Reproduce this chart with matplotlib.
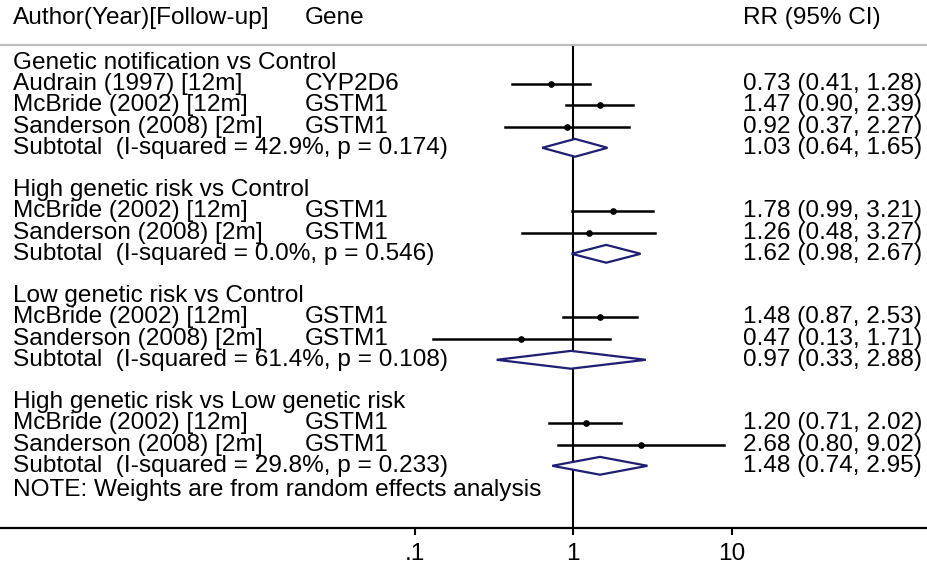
import numpy as np
import matplotlib
matplotlib.use("Agg")
import matplotlib.pyplot as plt

plt.rcParams["font.family"] = ["Liberation Sans", "DejaVu Sans"]

# Data
groups = [
    "Genetic notification vs Control",
    "High genetic risk vs Control",
    "Low genetic risk vs Control",
    "High genetic risk vs Low genetic risk",
]
study_group = [0, 0, 0, 1, 1, 2, 2, 3, 3]
study_labels = [
    "Audrain (1997) [12m]", "McBride (2002) [12m]", "Sanderson (2008) [2m]",
    "McBride (2002) [12m]", "Sanderson (2008) [2m]",
    "McBride (2002) [12m]", "Sanderson (2008) [2m]",
    "McBride (2002) [12m]", "Sanderson (2008) [2m]",
]
study_genes = ["CYP2D6", "GSTM1", "GSTM1", "GSTM1", "GSTM1",
               "GSTM1", "GSTM1", "GSTM1", "GSTM1"]
study_rr = [0.73, 1.47, 0.92, 1.78, 1.26, 1.48, 0.47, 1.20, 2.68]
study_lo = [0.41, 0.90, 0.37, 0.99, 0.48, 0.87, 0.13, 0.71, 0.80]
study_hi = [1.28, 2.39, 2.27, 3.21, 3.27, 2.53, 1.71, 2.02, 9.02]

sub_i2 = [42.9, 0.0, 61.4, 29.8]
sub_p = [0.174, 0.546, 0.108, 0.233]
sub_rr = [1.03, 1.62, 0.97, 1.48]
sub_lo = [0.64, 0.98, 0.33, 0.74]
sub_hi = [1.65, 2.67, 2.88, 2.95]

xticks = [0.1, 1, 10]
xticklabels = [".1", "1", "10"]

W, H = 928, 569
FS = 17.6
x1_px, decade_px = 573.0, 158.5   # pixel of RR=1 and width of one decade
row0_px, row_px = 63.0, 21.2      # pixel of first row and row spacing
top_px, bot_px = 45.0, 528.0

fig = plt.figure(figsize=(W / 100, H / 100), dpi=100)
ax = fig.add_axes([0, 1 - bot_px / H, 1, (bot_px - top_px) / H])
ax.set_xscale("log")
ax.set_xlim(10 ** (-x1_px / decade_px), 10 ** ((W - x1_px) / decade_px))
ax.set_ylim((bot_px - row0_px) / row_px, (top_px - row0_px) / row_px)

for s in ["left", "right"]:
    ax.spines[s].set_visible(False)
ax.spines["top"].set_color("#bdbdbd")
ax.spines["top"].set_linewidth(1.6)
ax.spines["bottom"].set_linewidth(1.6)
ax.set_yticks([])
ax.set_xticks(xticks)
ax.set_xticklabels(xticklabels, fontsize=FS)
ax.minorticks_off()
ax.tick_params(axis="x", length=5, width=1.5, pad=6)

ax.axvline(1, color="black", lw=1.5, zorder=1)

tr = ax.get_yaxis_transform()


def fx(px):
    return px / W


navy = "#1e1e72"
row = 0
for g, gname in enumerate(groups):
    ax.text(fx(13), row, gname, transform=tr, fontsize=FS, va="center", ha="left")
    row += 1
    for k in [i for i, sg in enumerate(study_group) if sg == g]:
        ax.text(fx(13), row, study_labels[k], transform=tr, fontsize=FS, va="center", ha="left")
        ax.text(fx(305), row, study_genes[k], transform=tr, fontsize=FS, va="center", ha="left")
        ax.plot([study_lo[k], study_hi[k]], [row, row], color="black", lw=1.8, zorder=2)
        ax.plot(study_rr[k], row, "o", color="black", ms=3.8, zorder=3)
        ax.text(fx(743), row, f"{study_rr[k]:.2f} ({study_lo[k]:.2f}, {study_hi[k]:.2f})",
                transform=tr, fontsize=FS, va="center", ha="left")
        row += 1
    ax.text(fx(13), row, f"Subtotal  (I-squared = {sub_i2[g]:.1f}%, p = {sub_p[g]:.3f})",
            transform=tr, fontsize=FS, va="center", ha="left")
    h = 0.42
    ax.fill([sub_lo[g], sub_rr[g], sub_hi[g], sub_rr[g], sub_lo[g]],
            [row, row - h, row, row + h, row], facecolor="white",
            edgecolor=navy, lw=1.6, zorder=3)
    ax.text(fx(743), row, f"{sub_rr[g]:.2f} ({sub_lo[g]:.2f}, {sub_hi[g]:.2f})",
            transform=tr, fontsize=FS, va="center", ha="left")
    row += 2

ax.text(fx(13), row - 0.85, "NOTE: Weights are from random effects analysis",
        transform=tr, fontsize=FS, va="center", ha="left")

fig.text(fx(13), 1 - 18 / H, "Author(Year)[Follow-up]", fontsize=FS, va="center", ha="left")
fig.text(fx(305), 1 - 18 / H, "Gene", fontsize=FS, va="center", ha="left")
fig.text(fx(743), 1 - 18 / H, "RR (95% CI)", fontsize=FS, va="center", ha="left")

fig.savefig("out.png", dpi=100)
